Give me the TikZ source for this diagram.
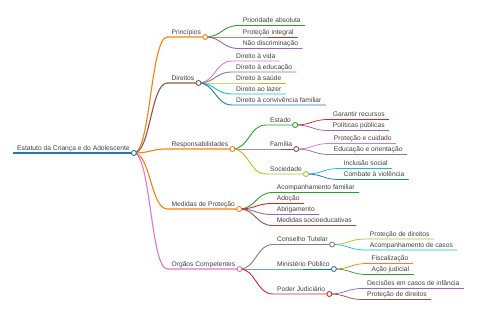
\documentclass[tikz,border=0pt]{standalone}
\usepackage{fontspec}
\setmainfont{Liberation Sans}
\usetikzlibrary{calc}
\definecolor{cBlue}{HTML}{1F77B4}
\definecolor{cOrange}{HTML}{FF7F0E}
\definecolor{cGreen}{HTML}{2CA02C}
\definecolor{cRed}{HTML}{D62728}
\definecolor{cPurple}{HTML}{9467BD}
\definecolor{cBrown}{HTML}{8C564B}
\definecolor{cPink}{HTML}{E377C2}
\definecolor{cGray}{HTML}{7F7F7F}
\definecolor{cOlive}{HTML}{BCBD22}
\definecolor{cCyan}{HTML}{17BECF}
\tikzset{
  mmtext/.style={anchor=south west, inner xsep=4pt, inner ysep=1pt, text height=5pt, text depth=1.4pt,
    font=\fontsize{6.7}{8}\selectfont, text=black!75},
  mmdot/.style={draw=#1, fill=white, line width=0.9pt},
}
% name, parent circle, dy, colour, line width, text
\newcommand\mmkid[6]{%
  \node[mmtext] (#1) at ($(#2)+(33.5,#3)$) {#6};
  \coordinate (#1c) at (#1.south east);
  \draw[#4, line width=#5, line cap=round] (#2) .. controls ($(#2)!.5!(#2 -| #1.south west)$) and ($(#2 |- #1.south west)!.5!(#1.south west)$) .. (#1.south west) -- (#1.south east);
}
\begin{document}
\begin{tikzpicture}[x=1pt, y=-1pt]
\useasboundingbox (0,0) rectangle (480,320);
% root
\node[mmtext] (root) at (13,153) {Estatuto da Criança e do Adolescente};
\coordinate (rootc) at (root.south east);
\draw[cBlue, line width=1.5pt] (root.south west) -- (root.south east);
% level 1
\mmkid{pri}{rootc}{-116}{cOrange}{1.1pt}{Princípios}
\mmkid{dir}{rootc}{-70}{cBrown}{1.1pt}{Direitos}
\mmkid{res}{rootc}{-4}{cOrange}{1.1pt}{Responsabilidades}
\mmkid{med}{rootc}{56}{cOrange}{1.1pt}{Medidas de Proteção}
\mmkid{org}{rootc}{116}{cPink}{1.1pt}{Orgãos Competentes}
% Princípios
\mmkid{pa}{pric}{-11.5}{cGreen}{0.9pt}{Prioridade absoluta}
\mmkid{pb}{pric}{0}{cRed}{0.9pt}{Proteção integral}
\mmkid{pd}{pric}{11.5}{cPurple}{0.9pt}{Não discriminação}
% Direitos
\mmkid{da}{dirc}{-22}{cPink}{0.9pt}{Direito à vida}
\mmkid{db}{dirc}{-11}{cGray}{0.9pt}{Direito à educação}
\mmkid{dc}{dirc}{0}{cOlive}{0.9pt}{Direito à saúde}
\mmkid{dd}{dirc}{11}{cCyan}{0.9pt}{Direito ao lazer}
\mmkid{de}{dirc}{22}{cBlue}{0.9pt}{Direito à convivência familiar}
% Responsabilidades
\mmkid{est}{resc}{-24}{cGreen}{0.9pt}{Estado}
\mmkid{fam}{resc}{0}{cBrown}{0.9pt}{Família}
\mmkid{soc}{resc}{25}{cOlive}{0.9pt}{Sociedade}
\mmkid{ea}{estc}{-5.5}{cRed}{0.75pt}{Garantir recursos}
\mmkid{eb}{estc}{5.5}{cPurple}{0.75pt}{Políticas públicas}
\mmkid{fa}{famc}{-5.5}{cPink}{0.75pt}{Proteção e cuidado}
\mmkid{fb}{famc}{5.5}{cGray}{0.75pt}{Educação e orientação}
\mmkid{sa}{socc}{-5.5}{cCyan}{0.75pt}{Inclusão social}
\mmkid{sb}{socc}{5.5}{cBlue}{0.75pt}{Combate à violência}
% Medidas
\mmkid{ma}{medc}{-16.5}{cGreen}{0.9pt}{Acompanhamento familiar}
\mmkid{mb}{medc}{-5.5}{cRed}{0.9pt}{Adoção}
\mmkid{mc}{medc}{5.5}{cPurple}{0.9pt}{Abrigamento}
\mmkid{md}{medc}{16.5}{cBrown}{0.9pt}{Medidas socioeducativas}
% Orgãos
\mmkid{con}{orgc}{-24.5}{cGray}{0.9pt}{Conselho Tutelar}
\mmkid{min}{orgc}{0}{cBlue}{0.9pt}{Ministério Público}
\mmkid{pod}{orgc}{25}{cRed}{0.9pt}{Poder Judiciário}
\mmkid{ca}{conc}{-5.5}{cOlive}{0.75pt}{Proteção de direitos}
\mmkid{cb}{conc}{5.5}{cCyan}{0.75pt}{Acompanhamento de casos}
\mmkid{mia}{minc}{-5.5}{cOrange}{0.75pt}{Fiscalização}
\mmkid{mib}{minc}{5.5}{cGreen}{0.75pt}{Ação judicial}
\mmkid{pda}{podc}{-5.5}{cPurple}{0.75pt}{Decisões em casos de infância}
\mmkid{pdb}{podc}{5.5}{cBrown}{0.75pt}{Proteção de direitos}
% circles
\draw[mmdot=cBlue] (rootc) circle (2.5);
\draw[mmdot=cOrange] (pric) circle (2.5);
\draw[mmdot=cBrown] (dirc) circle (2.5);
\draw[mmdot=cOrange] (resc) circle (2.5);
\draw[mmdot=cOrange] (medc) circle (2.5);
\draw[mmdot=cPink] (orgc) circle (2.5);
\draw[mmdot=cGreen] (estc) circle (2.5);
\draw[mmdot=cBrown] (famc) circle (2.5);
\draw[mmdot=cOlive] (socc) circle (2.5);
\draw[mmdot=cGray] (conc) circle (2.5);
\draw[mmdot=cBlue] (minc) circle (2.5);
\draw[mmdot=cRed] (podc) circle (2.5);
\end{tikzpicture}
\end{document}
